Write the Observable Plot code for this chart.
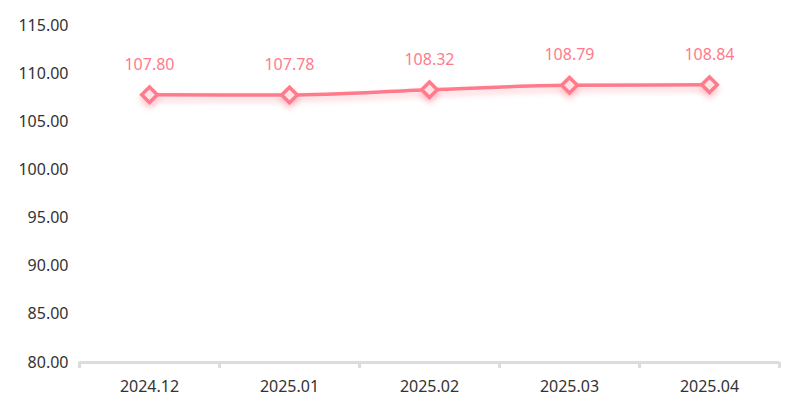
<!DOCTYPE html>
<html>
<head>
<meta charset="utf-8">
<script src="https://cdn.jsdelivr.net/npm/d3@7"></script>
<script src="https://cdn.jsdelivr.net/npm/@observablehq/plot@0.6"></script>
<style>
  html, body { margin: 0; padding: 0; background: #fff; }
  #chart { width: 802px; height: 415px; }
</style>
</head>
<body>
<div id="chart"></div>
<script>
const categories = ["2024.12", "2025.01", "2025.02", "2025.03", "2025.04"];
const values = [107.80, 107.78, 108.32, 108.79, 108.84];
const yTicks = [80, 85, 90, 95, 100, 105, 110, 115];

const lineColor = "#ff7b8b";
const data = categories.map((c, i) => ({i, label: c, value: values[i]}));
const boundaries = d3.range(-0.5, categories.length, 1);

const chart = Plot.plot({
  width: 802,
  height: 415,
  marginLeft: 79,
  marginRight: 23,
  marginTop: 25,
  marginBottom: 53,
  style: {fontFamily: "'Noto Sans', sans-serif", fontSize: "16px", background: "#fff"},
  x: {type: "linear", domain: [-0.5, categories.length - 0.5]},
  y: {domain: [80, 115]},
  marks: [
    Plot.axisY({ticks: yTicks, tickFormat: d => d.toFixed(2), tickSize: 0, tickPadding: 11, label: null, fill: "#333", fontSize: 16}),
    Plot.ruleY([80], {stroke: "#dcdcdc", strokeWidth: 3}),
    Plot.axisX({ticks: boundaries, tickFormat: () => "", tickSize: 6, stroke: "#dcdcdc", strokeWidth: 3, label: null}),
    Plot.axisX({ticks: d3.range(categories.length), tickFormat: i => categories[i], tickSize: 0, tickPadding: 18, label: null, fill: "#333", fontSize: 16}),
    Plot.line(data, {x: "i", y: "value", stroke: lineColor, strokeWidth: 3.5, curve: "monotone-x"}),
    Plot.dot(data, {x: "i", y: "value", symbol: "diamond2", r: 7, stroke: lineColor, strokeWidth: 3.5, fill: "#ffe3e7"}),
    Plot.text(data, {x: "i", y: "value", text: d => d.value.toFixed(2), dy: -30, fill: lineColor, fontSize: 16})
  ]
});
document.getElementById("chart").appendChild(chart);
d3.select(chart).selectAll("g[aria-label='line'] path, g[aria-label='dot'] path")
  .style("filter", "drop-shadow(0px 4px 3px rgba(255,123,139,0.45))");
</script>
</body>
</html>
